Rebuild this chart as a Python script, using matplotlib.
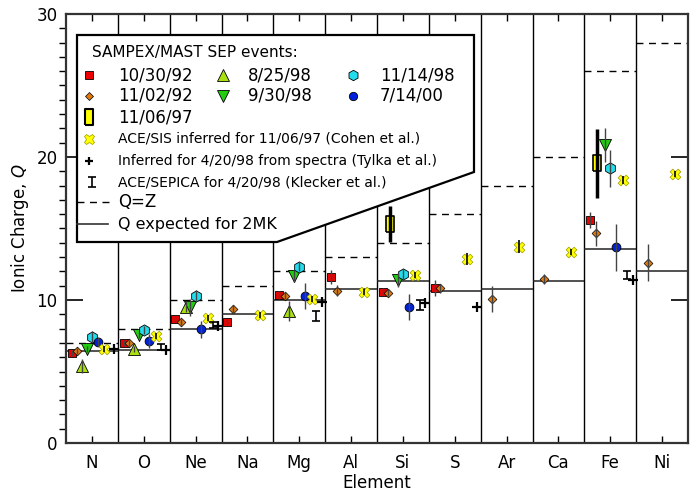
import numpy as np
import matplotlib
matplotlib.use("Agg")
import matplotlib.pyplot as plt
from matplotlib.patches import Polygon

# elements and reference charges
elements = ["N", "O", "Ne", "Na", "Mg", "Al", "Si", "S", "Ar", "Ca", "Fe", "Ni"]
z_vals = [7, 8, 10, 11, 12, 13, 14, 16, 18, 20, 26, 28]
q_2mk = [6.4, 6.5, 8.0, 9.0, 10.0, 10.8, 11.3, 10.6, 10.8, 11.3, 13.6, 12.0]

# SAMPEX/MAST events
oct30_el = ["N", "O", "Ne", "Na", "Mg", "Al", "Si", "S", "Fe"]
oct30_q = [6.27, 6.97, 8.67, 8.48, 10.35, 11.63, 10.58, 10.82, 15.6]
oct30_err = [0.2, 0.2, 0.2, 0.2, 0.25, 0.5, 0.25, 0.55, 0.55]

nov02_el = ["N", "O", "Ne", "Na", "Mg", "Al", "Si", "S", "Ar", "Ca", "Fe", "Ni"]
nov02_q = [6.45, 6.97, 8.48, 9.35, 10.3, 10.65, 10.51, 10.82, 10.05, 11.45, 14.66, 12.61]
nov02_err = [0.2, 0.2, 0.2, 0.3, 0.25, 0.4, 0.25, 0.3, 0.9, 0.35, 0.85, 1.3]

nov06_el = ["Si", "Fe"]
nov06_q = [15.3, 19.56]
nov06_err = [1.25, 2.4]

aug25_el = ["N", "O", "Ne", "Mg"]
aug25_q = [5.38, 6.55, 9.53, 9.25]
aug25_err = [0.5, 0.2, 0.4, 0.7]

sep30_el = ["N", "O", "Ne", "Mg", "Si", "Fe"]
sep30_q = [6.55, 7.55, 9.49, 11.68, 11.4, 20.84]
sep30_err = [0.2, 0.2, 0.6, 0.4, 0.5, 1.2]

nov14_el = ["N", "O", "Ne", "Mg", "Si", "Fe"]
nov14_q = [7.43, 7.9, 10.3, 12.33, 11.8, 19.2]
nov14_err = [0.4, 0.3, 0.4, 0.3, 0.4, 1.3]

jul14_el = ["N", "O", "Ne", "Mg", "Si", "Fe"]
jul14_q = [7.08, 7.15, 7.95, 10.3, 9.49, 13.69]
jul14_err = [0.3, 0.5, 0.6, 0.9, 0.9, 1.65]

# other measurements
sis_el = ["N", "O", "Ne", "Na", "Mg", "Al", "Si", "S", "Ar", "Ca", "Fe", "Ni"]
sis_q = [6.55, 7.48, 8.72, 8.95, 10.07, 10.58, 11.75, 12.87, 13.73, 13.38, 18.4, 18.81]
sis_err = [0.2, 0.2, 0.2, 0.2, 0.2, 0.2, 0.2, 0.45, 0.45, 0.2, 0.3, 0.2]

sepica_el = ["O", "Ne", "Mg", "Si", "Fe"]
sepica_q = [6.73, 8.25, 8.9, 9.65, 11.75]
sepica_err = [0.2, 0.2, 0.35, 0.35, 0.3]

tylka_el = ["N", "O", "Ne", "Mg", "Si", "S", "Fe"]
tylka_q = [6.55, 6.5, 8.18, 9.88, 9.77, 9.49, 11.4]

def xpos(els, off):
    return np.array([elements.index(e) for e in els]) + off

box = [(-1, -2), (1, -2), (1, 2), (-1, 2), (-1, -2)]

fig = plt.figure(figsize=(6.91, 4.9), dpi=100)
ax = fig.add_axes([66/691, 47/490, 622/691, 429/490])
ax.set_xlim(-0.5, 11.5)
ax.set_ylim(0, 30)

# column boundaries and reference levels
ax.vlines(np.arange(0.5, 11.5, 1), 0, 30, color="k", lw=1, zorder=1)
idx = np.arange(len(elements))
ax.hlines(z_vals, idx - 0.5, idx + 0.5, color="k", lw=1, linestyles=(0, (5, 4)), zorder=1)
ax.hlines(q_2mk, idx - 0.5, idx + 0.5, color="#222222", lw=1.1, zorder=1)

ebar = dict(fmt="none", ecolor="#444444", elinewidth=1, zorder=4)

ax.scatter(xpos(oct30_el, -0.39), oct30_q, marker="s", s=40, c="#ee0000", edgecolors="k", lw=0.6, zorder=3)
ax.errorbar(xpos(oct30_el, -0.39), oct30_q, yerr=oct30_err, **ebar)
ax.scatter(xpos(nov02_el, -0.28), nov02_q, marker="D", s=20, c="#e07a10", edgecolors="k", lw=0.5, zorder=3)
ax.errorbar(xpos(nov02_el, -0.28), nov02_q, yerr=nov02_err, **ebar)
ax.scatter(xpos(nov06_el, -0.25), nov06_q, marker=box, s=135, c="#ffff00", edgecolors="k", lw=1.2, zorder=3)
ax.errorbar(xpos(nov06_el, -0.25), nov06_q, yerr=nov06_err, fmt="none", ecolor="k", elinewidth=2.5, zorder=4)
ax.scatter(xpos(aug25_el, -0.19), aug25_q, marker="^", s=75, c="#a8e010", edgecolors="k", lw=0.6, zorder=3)
ax.errorbar(xpos(aug25_el, -0.19), aug25_q, yerr=aug25_err, **ebar)
ax.scatter(xpos(sep30_el, -0.1), sep30_q, marker="v", s=75, c="#22cc11", edgecolors="k", lw=0.6, zorder=3)
ax.errorbar(xpos(sep30_el, -0.1), sep30_q, yerr=sep30_err, **ebar)
ax.scatter(xpos(nov14_el, 0.0), nov14_q, marker="h", s=65, c="#22ddee", edgecolors="k", lw=0.6, zorder=3)
ax.errorbar(xpos(nov14_el, 0.0), nov14_q, yerr=nov14_err, **ebar)
ax.scatter(xpos(jul14_el, 0.11), jul14_q, marker="o", s=40, c="#0022dd", edgecolors="k", lw=0.6, zorder=3)
ax.errorbar(xpos(jul14_el, 0.11), jul14_q, yerr=jul14_err, **ebar)
ax.scatter(xpos(sis_el, 0.24), sis_q, marker="X", s=60, c="#ffff00", edgecolors="#999900", lw=0.5, zorder=3)
ax.errorbar(xpos(sis_el, 0.24), sis_q, yerr=sis_err, fmt="none", ecolor="k", elinewidth=1.2, zorder=4)
ax.errorbar(xpos(sepica_el, 0.33), sepica_q, yerr=sepica_err, fmt="none", ecolor="k", elinewidth=1.2, capsize=3, capthick=1.2, zorder=4)
ax.scatter(xpos(tylka_el, 0.43), tylka_q, marker="+", s=45, c="k", lw=1.6, zorder=4)

# axes styling
ax.set_xticks(idx)
ax.set_xticklabels(elements, fontsize=12)
ax.set_yticks([0, 10, 20, 30])
ax.set_yticks(np.arange(0, 31, 1), minor=True)
ax.tick_params(axis="both", labelsize=12, direction="in", top=True, right=True)
ax.tick_params(axis="x", length=5, width=1, pad=8)
ax.tick_params(axis="y", which="major", length=12, width=1.2, pad=6)
ax.tick_params(axis="y", which="minor", length=5, width=1)
for s in ax.spines.values():
    s.set_linewidth(1.6)
    s.set_color("#333333")
ax.set_xlabel("Element", fontsize=12, labelpad=1)
ax.set_ylabel("Ionic Charge, $Q$", fontsize=12, labelpad=4)

# legend box
def fx(px):
    return (px - 66) / 622

def fy(py):
    return (443 - py) / 429

poly = Polygon([(fx(77), fy(35)), (fx(474), fy(35)), (fx(474), fy(172)),
                (fx(277), fy(242)), (fx(77), fy(242))], closed=True,
               transform=ax.transAxes, facecolor="white", edgecolor="k", lw=1.6, zorder=6)
ax.add_patch(poly)

def lmark(px, py, **kw):
    ax.plot([fx(px)], [fy(py)], transform=ax.transAxes, clip_on=False, zorder=7, ls="none", **kw)

def ltext(px, py, s, size):
    ax.text(fx(px), fy(py), s, transform=ax.transAxes, fontsize=size, va="center", ha="left", zorder=7)

ltext(92, 52, "SAMPEX/MAST SEP events:", 11)
lmark(89, 75, marker="s", ms=6, mfc="#ee0000", mec="k", mew=0.6)
ltext(118, 75, "10/30/92", 12)
lmark(223, 75, marker="^", ms=8, mfc="#a8e010", mec="k", mew=0.6)
ltext(248, 75, "8/25/98", 12)
lmark(353, 75, marker="h", ms=7.5, mfc="#22ddee", mec="k", mew=0.6)
ltext(380, 75, "11/14/98", 12)
lmark(89, 96, marker="D", ms=4.5, mfc="#e07a10", mec="k", mew=0.5)
ltext(118, 96, "11/02/92", 12)
lmark(223, 96, marker="v", ms=8, mfc="#22cc11", mec="k", mew=0.6)
ltext(248, 96, "9/30/98", 12)
lmark(353, 96, marker="o", ms=6, mfc="#0022dd", mec="k", mew=0.6)
ltext(380, 96, "7/14/00", 12)
lmark(89, 117, marker=box, ms=12, mfc="#ffff00", mec="k", mew=1.5)
ltext(118, 117, "11/06/97", 12)
lmark(89, 139, marker="X", ms=7.5, mfc="#ffff00", mec="#999900", mew=0.5)
ltext(118, 139, "ACE/SIS inferred for 11/06/97 (Cohen et al.)", 10)
lmark(89, 161, marker="+", ms=6, mec="k", mew=1.6)
ltext(118, 161, "Inferred for 4/20/98 from spectra (Tylka et al.)", 10)
ax.errorbar([fx(92)], [fy(182)], yerr=[0.012], transform=ax.transAxes, fmt="none", ecolor="k",
            elinewidth=1.2, capsize=3, capthick=1.2, zorder=7, clip_on=False)
ltext(118, 182, "ACE/SEPICA for 4/20/98 (Klecker et al.)", 10)
ax.plot([fx(77), fx(113)], [fy(202), fy(202)], transform=ax.transAxes, color="k", lw=1,
        ls=(0, (5, 4)), zorder=7)
ltext(118, 202, "Q=Z", 12)
ax.plot([fx(77), fx(108)], [fy(224), fy(224)], transform=ax.transAxes, color="#333333", lw=1.2, zorder=7)
ltext(118, 224, "Q expected for 2MK", 11.5)

fig.savefig("out.png", dpi=100)
